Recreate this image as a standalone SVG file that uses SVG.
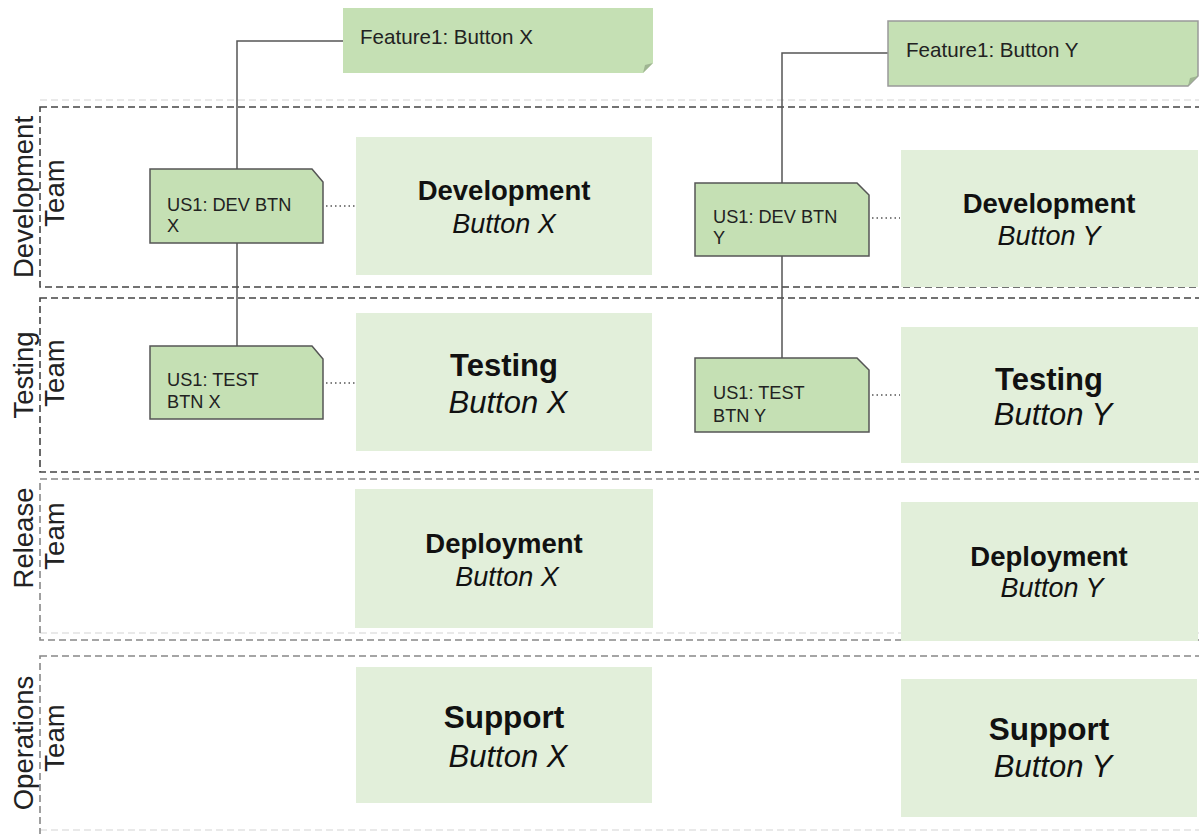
<svg xmlns="http://www.w3.org/2000/svg" width="1199" height="834" viewBox="0 0 1199 834">
<style>
.lane{fill:none;stroke:#444;stroke-width:1.6;stroke-dasharray:7 4}
.lane2{fill:none;stroke:#888;stroke-width:1.6;stroke-dasharray:7 4}
.faint{fill:none;stroke:#e2e2e2;stroke-width:1.5;stroke-dasharray:7 4}
.lbl{font-family:"Liberation Sans",Arial,sans-serif;font-size:27.5px;fill:#222;text-anchor:middle}
.feat{fill:#c5e0b4}
.fold{fill:#9fb592}
.us{fill:#c5e0b4;stroke:#555;stroke-width:1.5}
.ust{font-family:"Liberation Sans",Arial,sans-serif;font-size:18.2px;fill:#222}
.ft{font-family:"Liberation Sans",Arial,sans-serif;font-size:20.6px;fill:#222}
.box{fill:#e2efda}
.bt{font-family:"Liberation Sans",Arial,sans-serif;fill:#111;text-anchor:middle}
.b{font-weight:bold}
.i{font-style:italic}
.con{fill:none;stroke:#555;stroke-width:1.5}
.dot{fill:none;stroke:#555;stroke-width:1.5;stroke-dasharray:1.5 3}
</style>
<rect width="1199" height="834" fill="#fff"/>
<g id="lanes">
<line class="faint" x1="40" y1="100" x2="1205" y2="100"/>
<line class="faint" x1="40" y1="633" x2="1205" y2="633"/>
<line class="faint" x1="40" y1="830" x2="1205" y2="830"/>
<rect class="lane" x="40" y="107" width="1170" height="180"/>
<rect class="lane" x="40" y="298" width="1170" height="174"/>
<rect class="lane2" x="40" y="479" width="1170" height="161"/>
<rect class="lane2" x="40" y="656" width="1170" height="190"/>
</g>
<g id="lane-labels">
<text class="lbl" transform="translate(33,197) rotate(-90)">Development</text>
<text class="lbl" transform="translate(64,193) rotate(-90)">Team</text>
<text class="lbl" transform="translate(33,375) rotate(-90)">Testing</text>
<text class="lbl" transform="translate(64,373) rotate(-90)">Team</text>
<text class="lbl" transform="translate(33,538) rotate(-90)">Release</text>
<text class="lbl" transform="translate(64,536) rotate(-90)">Team</text>
<text class="lbl" transform="translate(33,743) rotate(-90)">Operations</text>
<text class="lbl" transform="translate(64,738) rotate(-90)">Team</text>
</g>
<g id="connectors">
<polyline class="con" points="343,41 237,41 237,169"/>
<line class="con" x1="237" y1="243" x2="237" y2="346"/>
<polyline class="con" points="888,53 782,53 782,183"/>
<line class="con" x1="782" y1="256" x2="782" y2="358"/>
<line class="dot" x1="326" y1="206" x2="355" y2="206"/>
<line class="dot" x1="326" y1="383" x2="355" y2="383"/>
<line class="dot" x1="872" y1="218" x2="900" y2="218"/>
<line class="dot" x1="872" y1="395" x2="900" y2="395"/>
</g>
<g id="feature-x">
<path class="feat" d="M343,8 H653 V63 L643,73 H343 Z"/>
<path class="fold" d="M643,73 L645,65 L653,63 Z"/>
<text class="ft" x="360" y="44">Feature1: Button X</text>
</g>
<g id="feature-y">
<path class="feat" d="M888,21 H1198 V76 L1188,86 H888 Z" stroke="#999" stroke-width="1.5"/>
<path class="fold" d="M1188,86 L1190,78 L1198,76 Z"/>
<text class="ft" x="906" y="57">Feature1: Button Y</text>
</g>
<g id="us-dev-x">
<path class="us" d="M150,169 H312 L323,182 V243 H150 Z"/>
<text class="ust" x="167" y="211">US1: DEV BTN</text>
<text class="ust" x="167" y="232">X</text>
</g>
<g id="us-test-x">
<path class="us" d="M150,346 H312 L323,359 V419 H150 Z"/>
<text class="ust" x="167" y="386">US1: TEST</text>
<text class="ust" x="167" y="408">BTN X</text>
</g>
<g id="us-dev-y">
<path class="us" d="M695,183 H857 L869,195 V256 H695 Z"/>
<text class="ust" x="713" y="223">US1: DEV BTN</text>
<text class="ust" x="713" y="244">Y</text>
</g>
<g id="us-test-y">
<path class="us" d="M695,358 H857 L869,370 V432 H695 Z"/>
<text class="ust" x="713" y="399">US1: TEST</text>
<text class="ust" x="713" y="422">BTN Y</text>
</g>
<g id="dev-x">
<rect class="box" x="356" y="137" width="296" height="138"/>
<text class="bt b" x="504" y="200" font-size="27.5">Development</text>
<text class="bt i" x="504" y="233" font-size="27">Button X</text>
</g>
<g id="dev-y">
<rect class="box" x="901" y="150" width="297" height="137"/>
<text class="bt b" x="1049" y="213" font-size="27.5">Development</text>
<text class="bt i" x="1049" y="245" font-size="27">Button Y</text>
</g>
<g id="test-x">
<rect class="box" x="356" y="313" width="296" height="138"/>
<text class="bt b" x="504" y="376" font-size="31">Testing</text>
<text class="bt i" x="508" y="413" font-size="31">Button X</text>
</g>
<g id="test-y">
<rect class="box" x="901" y="327" width="297" height="136"/>
<text class="bt b" x="1049" y="390" font-size="31">Testing</text>
<text class="bt i" x="1053" y="425" font-size="31">Button Y</text>
</g>
<g id="deploy-x">
<rect class="box" x="355" y="489" width="298" height="139"/>
<text class="bt b" x="504" y="553" font-size="27.5">Deployment</text>
<text class="bt i" x="507" y="586" font-size="27">Button X</text>
</g>
<g id="deploy-y">
<rect class="box" x="901" y="502" width="297" height="139"/>
<text class="bt b" x="1049" y="566" font-size="27.5">Deployment</text>
<text class="bt i" x="1052" y="597" font-size="27">Button Y</text>
</g>
<g id="support-x">
<rect class="box" x="356" y="667" width="296" height="136"/>
<text class="bt b" x="504" y="728" font-size="31.5">Support</text>
<text class="bt i" x="508" y="767" font-size="31">Button X</text>
</g>
<g id="support-y">
<rect class="box" x="901" y="679" width="296" height="138"/>
<text class="bt b" x="1049" y="740" font-size="31.5">Support</text>
<text class="bt i" x="1053" y="777" font-size="31">Button Y</text>
</g>
</svg>
